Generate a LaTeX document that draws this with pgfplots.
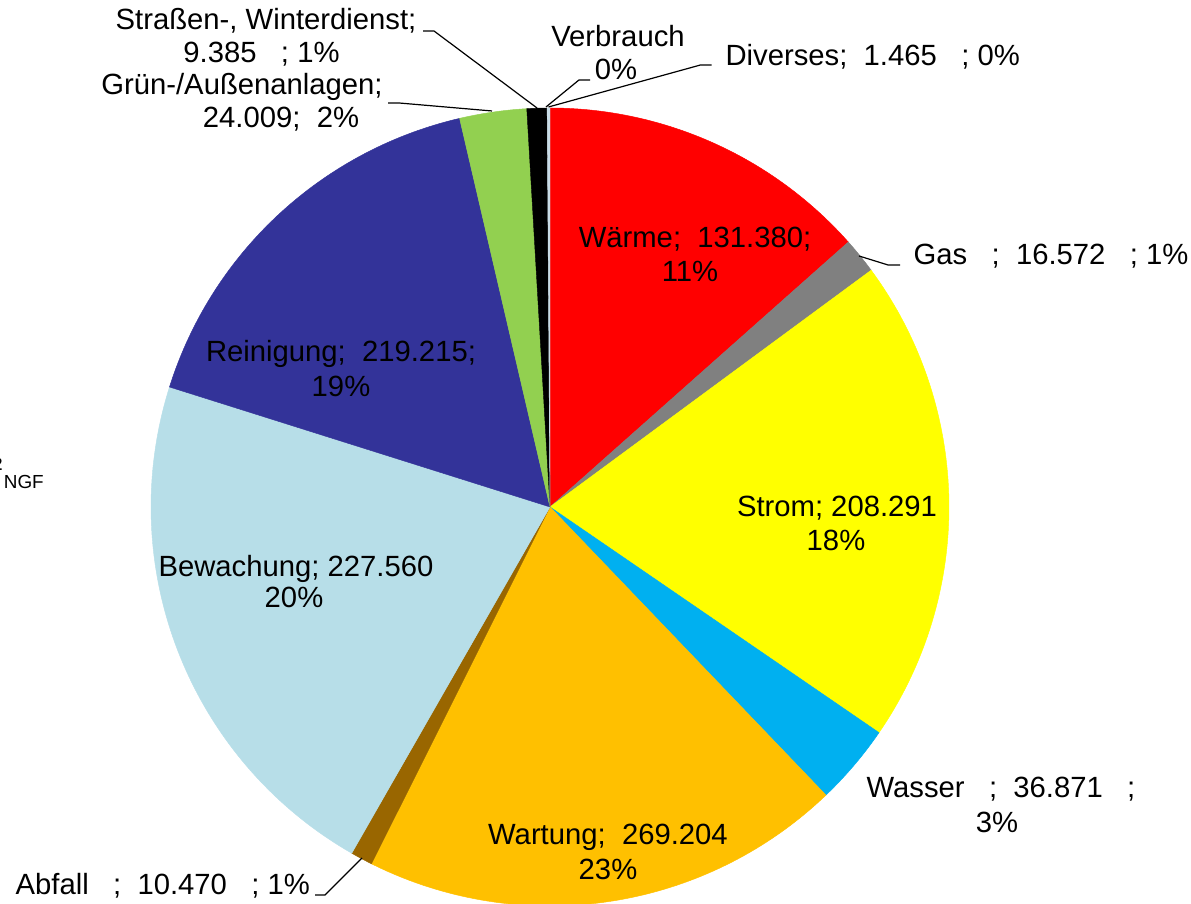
\documentclass[border=0pt]{standalone}
\usepackage{pgfplots}
\pgfplotsset{compat=1.18}
\usepackage{pgfplotstable}
\usepackage{fontspec}
\setmainfont{Liberation Sans}

\definecolor{cWaerme}{HTML}{FF0000}
\definecolor{cGas}{HTML}{808080}
\definecolor{cStrom}{HTML}{FFFF00}
\definecolor{cWasser}{HTML}{00B0F0}
\definecolor{cWartung}{HTML}{FFC000}
\definecolor{cAbfall}{HTML}{996600}
\definecolor{cBewachung}{HTML}{B7DEE8}
\definecolor{cReinigung}{HTML}{333399}
\definecolor{cGruen}{HTML}{92D050}
\definecolor{cStrassen}{HTML}{000000}
\definecolor{cDiverses}{HTML}{C9DCE6}

% slice sizes as drawn (clockwise from 12 o'clock)
\pgfplotstableread{
name value color
Waerme 155.2 cWaerme
Gas 16.7 cGas
Strom 227.2 cStrom
Wasser 37.8 cWasser
Wartung 225.6 cWartung
Abfall 10.3 cAbfall
Bewachung 249.2 cBewachung
Reinigung 190.5 cReinigung
Gruen 31.3 cGruen
Strassen 9.4 cStrassen
Diverses 1.3 cDiverses
}\piedata

\begin{document}
\begin{tikzpicture}[font=\fontsize{9.75}{12}\selectfont]
\begin{axis}[name=ax, hide axis, scale only axis, width=397pt, height=301.3333pt,
  xmin=0, xmax=1191, ymin=0, ymax=904, clip=false]
\pgfplotstablegetrowsof{\piedata}
\pgfmathtruncatemacro{\nrows}{\pgfplotsretval-1}
\def\total{0}
\pgfplotsforeachungrouped \i in {0,...,\nrows}{%
  \pgfplotstablegetelem{\i}{value}\of\piedata
  \pgfmathsetmacro{\total}{\total+\pgfplotsretval}%
}
\def\cum{0}
\pgfplotsforeachungrouped \i in {0,...,\nrows}{%
  \pgfplotstablegetelem{\i}{value}\of\piedata
  \let\v\pgfplotsretval
  \pgfplotstablegetelem{\i}{color}\of\piedata
  \let\col\pgfplotsretval
  \pgfmathsetmacro{\a}{\cum/\total*360}%
  \pgfmathsetmacro{\b}{(\cum+\v)/\total*360}%
  \pgfmathtruncatemacro{\ns}{max(3,(\b-\a)+3)}%
  \pgfmathsetmacro{\cum}{\cum+\v}%
  \edef\temp{\noexpand\addplot[fill=\col, draw=\col, line width=0.15pt, domain=\a:\b, samples=\ns, variable=\noexpand\t]
    ({550+399*sin(\noexpand\t)},{397+399*cos(\noexpand\t)}) -- (axis cs:550,397) -- cycle;}%
  \temp
}

% inside labels
\node[anchor=base, inner sep=0] at (axis cs:695,656) {Wärme;\ \ 131.380;};
\node[anchor=base, inner sep=0] at (axis cs:690,622) {11\%};
\node[anchor=base, inner sep=0] at (axis cs:837,387) {Strom; 208.291};
\node[anchor=base, inner sep=0] at (axis cs:836,353) {18\%};
\node[anchor=base, inner sep=0] at (axis cs:608,59) {Wartung;\ \ 269.204};
\node[anchor=base, inner sep=0] at (axis cs:608,24) {23\%};
\node[anchor=base, inner sep=0] at (axis cs:296,327) {Bewachung; 227.560};
\node[anchor=base, inner sep=0] at (axis cs:294,296) {20\%};
\node[anchor=base, inner sep=0] at (axis cs:341,542) {Reinigung;\ \ 219.215;};
\node[anchor=base, inner sep=0] at (axis cs:341,507) {19\%};

% outside labels
\node[anchor=base, inner sep=0] at (axis cs:266,874) {Straßen-, Winterdienst;};
\node[anchor=base, inner sep=0] at (axis cs:261.5,841) {9.385\ \ \ ; 1\%};
\node[anchor=base, inner sep=0] at (axis cs:242,809) {Grün-/Außenanlagen;};
\node[anchor=base, inner sep=0] at (axis cs:281,776) {24.009;\ \ 2\%};
\node[anchor=base, inner sep=0] at (axis cs:618,857) {Verbrauch};
\node[anchor=base, inner sep=0] at (axis cs:616,824) {0\%};
\node[anchor=base west, inner sep=0] at (axis cs:725,838) {Diverses;\ \ 1.465\ \ \ ; 0\%};
\node[anchor=base west, inner sep=0] at (axis cs:913,639) {Gas\ \ \ ;\ \ 16.572\ \ \ ; 1\%};
\node[anchor=base west, inner sep=0] at (axis cs:866,106) {Wasser\ \ \ ;\ \ 36.871\ \ \ ;};
\node[anchor=base, inner sep=0] at (axis cs:997,71) {3\%};
\node[anchor=base west, inner sep=0] at (axis cs:15,9) {Abfall\ \ \ ;\ \ 10.470\ \ \ ; 1\%};

% leader lines
\draw[black, line width=0.4pt] (axis cs:423,873) -- (axis cs:434,873) -- (axis cs:537,796);
\draw[black, line width=0.4pt] (axis cs:388,801) -- (axis cs:399,801) -- (axis cs:492,793);
\draw[black, line width=0.4pt] (axis cs:590,824) -- (axis cs:579,824) -- (axis cs:546,797);
\draw[black, line width=0.4pt] (axis cs:711.5,839) -- (axis cs:700.5,839) -- (axis cs:548.5,797);
\draw[black, line width=0.4pt] (axis cs:900,639) -- (axis cs:888,639) -- (axis cs:859,648);
\draw[black, line width=0.4pt] (axis cs:315,9) -- (axis cs:325,9) -- (axis cs:362,46);

% unit label at the left edge, cut off as in the reference
\node[anchor=base east, inner sep=0] at (axis cs:3,425) {€/m²};
\node[anchor=base west, inner sep=0, font=\fontsize{6.3}{7}\selectfont] at (axis cs:3.3,415) {NGF};
\end{axis}
\pgfresetboundingbox
\useasboundingbox (ax.south west) rectangle (ax.north east);
\end{tikzpicture}
\end{document}
